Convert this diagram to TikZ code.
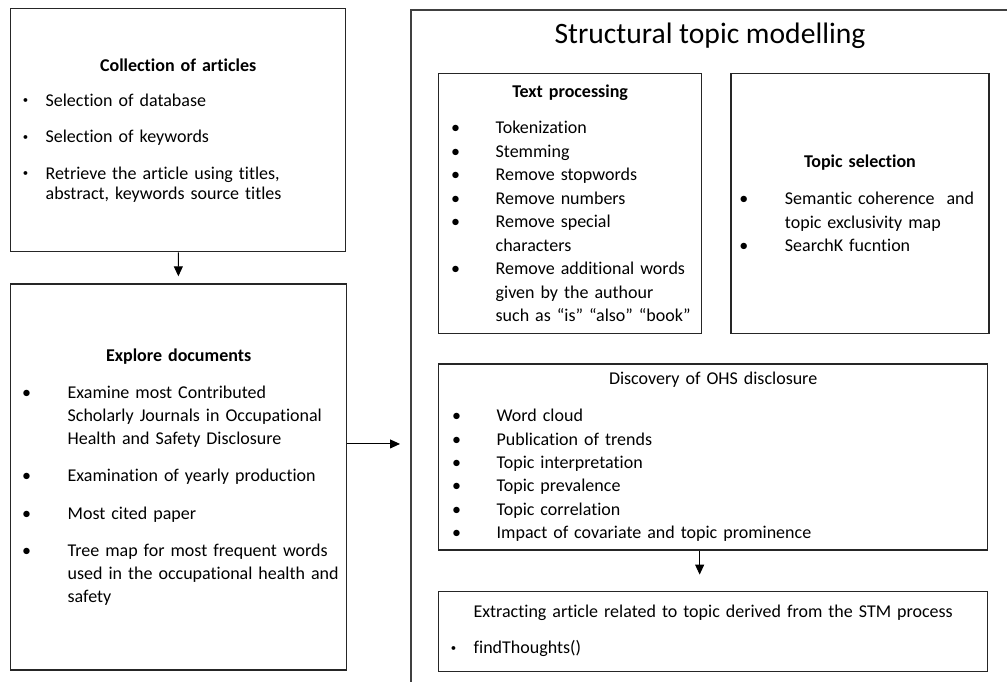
\documentclass[tikz,border=0pt]{standalone}
\usepackage{fontspec}
\setmainfont{Carlito}[Ligatures=NoCommon]
\usetikzlibrary{arrows.meta,positioning}

% bullet lists inside the boxes
\newlength{\bulhang}
\newlength{\bulpos}
\newlength{\bulgap}
\newcommand{\bulsym}{\textbullet}
\newcommand{\smallbul}{\raisebox{2.5pt}{\scalebox{0.6}{\textbullet}}}
\newcommand{\bulset}[3]{\setlength{\bulhang}{#1}\setlength{\bulpos}{#2}\setlength{\bulgap}{#3}\raggedright}
\newcommand{\itm}[1]{\par\vspace{\bulgap}\noindent\hangindent=\bulhang\hangafter=1
  \makebox[\bulhang][l]{\hspace{\bulpos}\makebox[0pt]{\bulsym}}#1}
\newcommand{\boxtitle}[2]{{\centering #1\par}\vspace{#2}}

\begin{document}
\begin{tikzpicture}[
  x=1pt,y=-1pt,
  box/.style={draw=black!85,line width=1.3pt,anchor=north west,
    inner xsep=4pt,inner ysep=0pt,font=\fontsize{18}{23.5}\selectfont},
  frame/.style={draw=black!75,line width=2pt,anchor=north west,
    inner sep=0pt},
  arrow/.style={-{Triangle[length=10pt,width=9pt]},line width=1pt}
]
  \useasboundingbox (0,0) rectangle (1007,681);

  \node[box,text width=327pt,minimum height=243pt,
    font=\fontsize{18}{20}\selectfont] (collect) at (10,8) {%
    \bulset{31pt}{11pt}{16.5pt}\renewcommand{\bulsym}{\smallbul}%
    \boxtitle{\bfseries Collection of articles}{-1.5pt}%
    \itm{Selection of database}
    \itm{Selection of keywords}
    \itm{Retrieve the article using titles,\newline abstract, keywords source titles}\par};
  \node[box,text width=328pt,minimum height=386pt,
    font=\fontsize{18}{23}\selectfont,
    below=31pt of collect.south west,anchor=north west] (explore) {%
    \bulset{53pt}{12pt}{14.5pt}%
    \boxtitle{\bfseries Explore documents}{-0.5pt}%
    \itm{Examine most Contributed\newline Scholarly Journals in Occupational\newline Health and Safety Disclosure}
    \itm{Examination of yearly production}
    \itm{Most cited paper}
    \itm{Tree map for most frequent words\newline used in the occupational health and\newline safety}\par};

  \node[frame,minimum width=600pt,minimum height=700pt] (stm) at (410,9) {};
  \node[anchor=base,font=\fontsize{29.6}{32}\selectfont] (stmtitle) at (710,43)
    {Structural topic modelling};

  \node[box,text width=255pt,minimum height=260pt] (textproc) at (438,73) {%
    \bulset{53pt}{13pt}{0pt}%
    \boxtitle{\bfseries Text processing}{12.5pt}%
    \itm{Tokenization}
    \itm{Stemming}
    \itm{Remove stopwords}
    \itm{Remove numbers}
    \itm{Remove special\newline characters}
    \itm{Remove additional words\newline given by the authour\newline such as “is” “also” “book”}\par};
  \node[box,text width=250pt,minimum height=260pt,
    right=28pt of textproc.north east,anchor=north west] (topicsel) {%
    \bulset{50pt}{9pt}{0pt}%
    \boxtitle{\bfseries Topic selection}{13.5pt}%
    \itm{Semantic coherence \ and\newline topic exclusivity map}
    \itm{SearchK fucntion}\par};
  \node[box,text width=541pt,minimum height=186pt,
    font=\fontsize{18}{23.4}\selectfont,
    below=29pt of textproc.south west,anchor=north west] (discovery) {%
    \bulset{54pt}{14pt}{0pt}%
    \boxtitle{Discovery of OHS disclosure}{13.5pt}%
    \itm{Word cloud}
    \itm{Publication of trends}
    \itm{Topic interpretation}
    \itm{Topic prevalence}
    \itm{Topic correlation}
    \itm{Impact of covariate and topic prominence}\par};
  \node[box,text width=541pt,minimum height=80pt,below=40pt of discovery] (extract) {%
    \bulset{31pt}{11pt}{0pt}\renewcommand{\bulsym}{\smallbul}%
    \boxtitle{Extracting article related to topic derived from the STM process}{12.5pt}%
    \itm{findThoughts()}\par};

  \draw[arrow,shorten >=7pt] (collect) -- (explore);
  \draw[arrow,shorten >=10pt] ([yshift=33pt]explore.east) -- ([yshift=33pt]explore.east -| stm.west);
  \draw[arrow,shorten >=16pt] ([xshift=-13.5pt]discovery.south) -- ([xshift=-13.5pt]discovery.south |- extract.north);
\end{tikzpicture}
\end{document}
